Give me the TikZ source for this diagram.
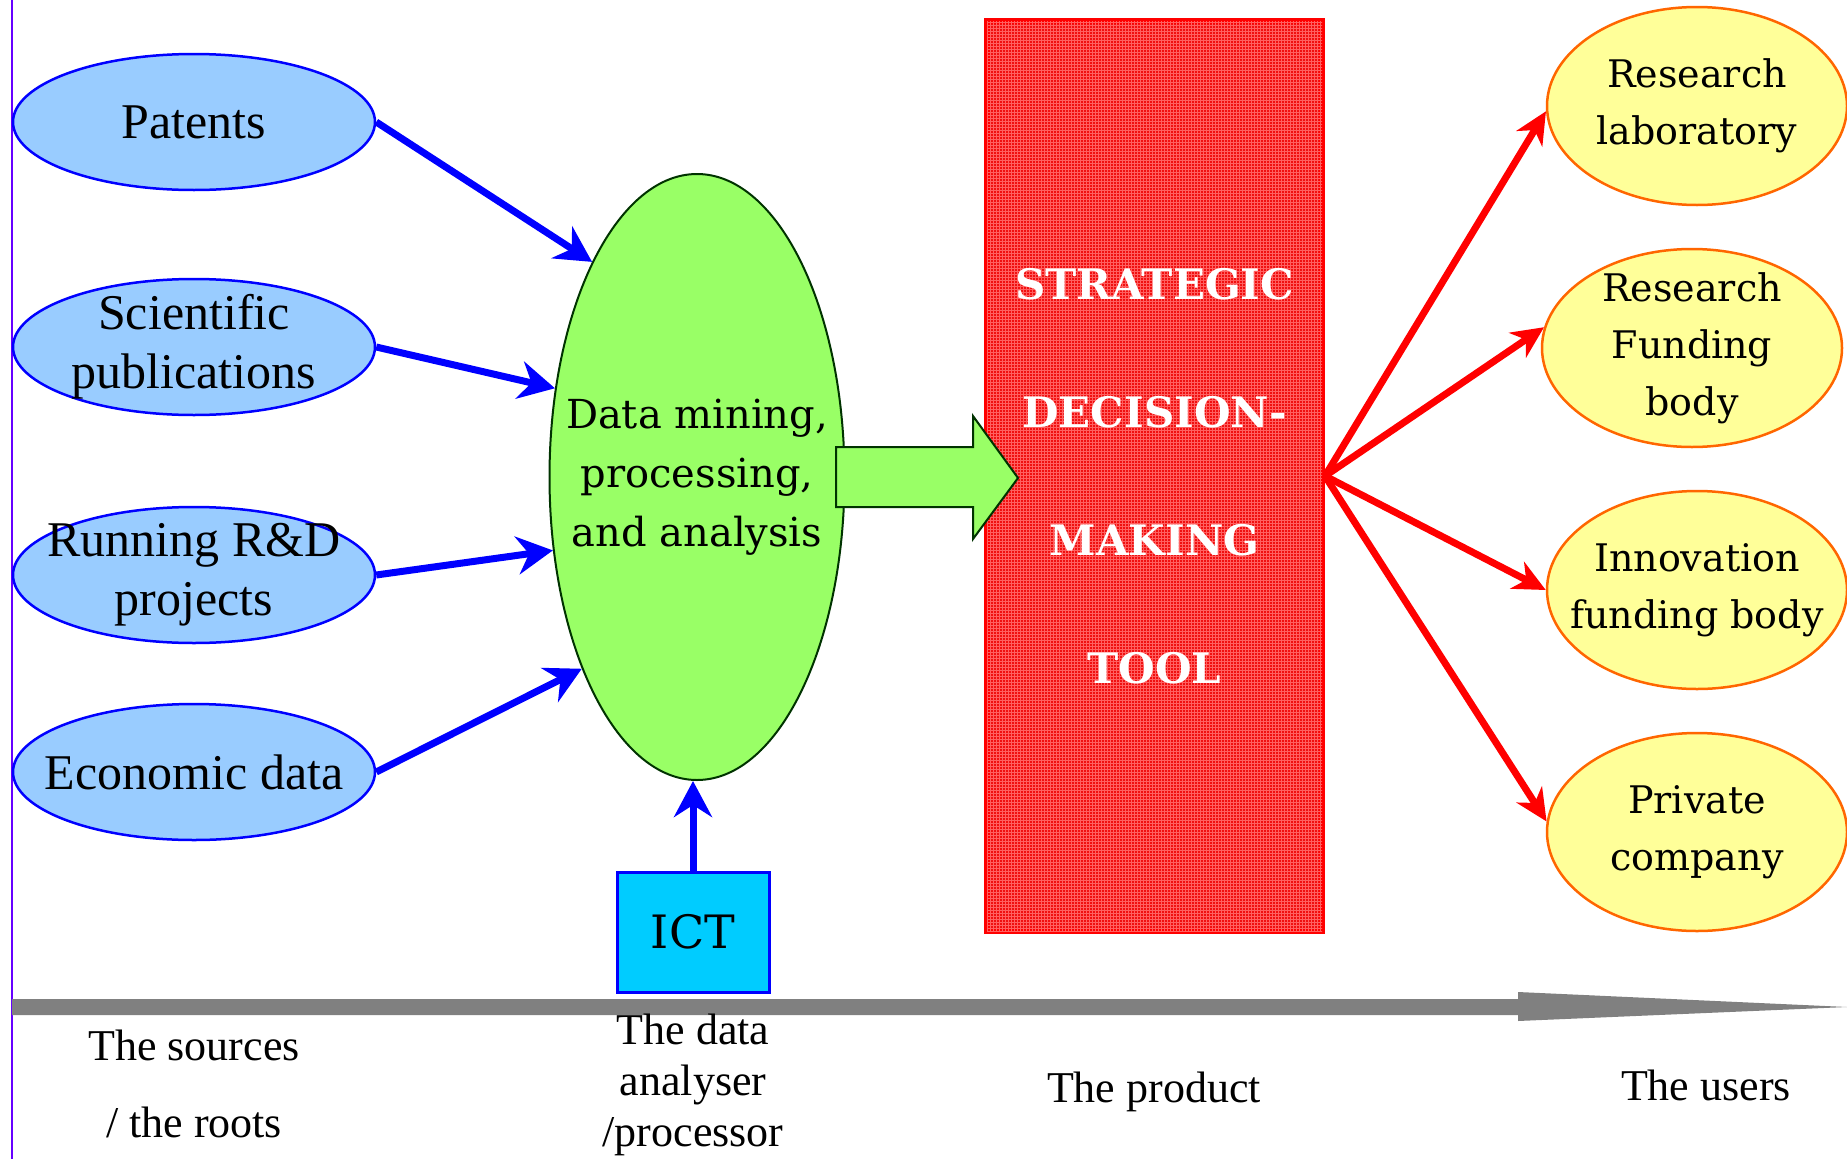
\documentclass[tikz,border=0pt]{standalone}
\usepackage{fontspec}
\setmainfont{Liberation Serif}
\newfontfamily\dvs{DejaVu Serif}
\usetikzlibrary{shapes.geometric,arrows.meta,patterns}
\definecolor{srcfill}{HTML}{99CCFF}
\definecolor{minefill}{HTML}{99FF66}
\definecolor{mineline}{HTML}{003300}
\definecolor{userfill}{HTML}{FFFF99}
\definecolor{userline}{HTML}{FF6600}
\definecolor{ictfill}{HTML}{00CCFF}
\definecolor{axisgray}{HTML}{808080}
\definecolor{toolred}{HTML}{F01010}
\definecolor{toolgrid}{HTML}{FF6060}
\definecolor{purpleline}{HTML}{6600FF}
\begin{document}
\begin{tikzpicture}[x=1pt,y=-1pt,
  src/.style={ellipse, draw=blue, fill=srcfill, line width=2.5pt,
    minimum width=362pt, minimum height=136pt, inner xsep=-120pt, inner ysep=-60pt, align=center,
    font=\fontsize{50}{59}\selectfont},
  usr/.style={ellipse, draw=userline, fill=userfill, line width=2.5pt,
    minimum width=300pt, minimum height=198pt, inner xsep=-120pt, inner ysep=-60pt, align=center,
    font=\dvs\fontsize{38}{57}\selectfont},
  lbl/.style={align=center, inner sep=0pt, font=\fontsize{44}{51}\selectfont},
  barrow/.style={draw=blue, line width=7pt, -{Stealth[length=36pt,width=38pt,inset=12pt]}},
  rarrow/.style={draw=red, line width=7pt, -{Stealth[length=32pt,width=30pt,inset=10pt]}}]
\useasboundingbox (0,0) rectangle (1847,1159);
\fill[white] (0,0) rectangle (1847,1159);
% left vertical line
\draw[purpleline, line width=1.5pt] (12,0) -- (12,1159);
% axis arrow
\fill[axisgray] (12,999) -- (1518,999) -- (1518,992) -- (1847,1007) -- (1518,1021) -- (1518,1015) -- (12,1015) -- cycle;
% sources
\node[src] (pat) at (194,122) {Patents};
\node[src] (sci) at (194,347) {Scientific\\publications};
\node[src] (run) at (194,575) {Running R\&D\\projects};
\node[src] (eco) at (194,772) {Economic data};
% data mining
\node[ellipse, draw=mineline, fill=minefill, line width=2pt, minimum width=295pt,
  minimum height=606pt, inner xsep=-150pt, inner ysep=-150pt, align=center,
  font=\dvs\fontsize{40}{59}\selectfont] (mine) at (697,477)
  {Data mining,\\processing,\\and analysis};
% ICT
\node[draw=blue, fill=ictfill, line width=3pt, minimum width=152pt, minimum height=120pt,
  inner sep=0pt, font=\dvs\fontsize{46}{50}\selectfont] (ict) at (693,932) {ICT};
% tool
\node[draw=red, fill=toolred, line width=6pt, minimum width=335pt, minimum height=910pt,
  inner sep=0pt, align=center, text=white,
  postaction={pattern=grid, pattern color=toolgrid},
  font=\dvs\bfseries\fontsize{42}{128}\selectfont] (tool) at (1154.5,476)
  {STRATEGIC\\DECISION-\\MAKING\\TOOL};
% block arrow
\filldraw[draw=mineline, fill=minefill, line width=2pt]
  (836,447) -- (973,447) -- (973,416) -- (1018,478) -- (973,539) -- (973,507) -- (836,507) -- cycle;
% users
\node[usr] (lab) at (1697,106) {Research\\laboratory};
\node[usr] (rfb) at (1692,348) {Research\\Funding\\body};
\node[usr] (inn) at (1697,590) {Innovation\\funding body};
\node[usr] (prv) at (1697,832) {Private\\company};
% blue arrows
\draw[barrow] (pat.east) -- (mine.116);
\draw[barrow] (sci.east) -- (mine.148);
\draw[barrow] (run.east) -- (mine.207);
\draw[barrow] (eco.east) -- (mine.239);
\draw[barrow] (ict.north) -- (ict.north |- mine.south);
% red arrows
\draw[rarrow] (tool.east) -- (lab.182);
\draw[rarrow] (tool.east) -- (rfb.172);
\draw[rarrow] (tool.east) -- (inn.180);
\draw[rarrow] (tool.east) -- (prv.176);
% bottom labels
\node[lbl, font=\fontsize{44}{77}\selectfont] (l1) at (194,1084) {The sources\\/ the roots};
\node[lbl] (l2) at (693,1085) {The data\\analyser\\/processor};
\node[lbl] (l3) at (1154,1092) {The product};
\node[lbl] (l4) at (1706,1085) {The users};
\end{tikzpicture}
\end{document}
